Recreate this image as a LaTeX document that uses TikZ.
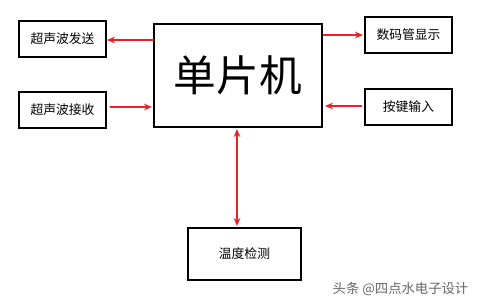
\documentclass[tikz,border=0pt]{standalone}
\usepackage{fontspec}
\setmainfont{Noto Sans CJK SC}
\usetikzlibrary{arrows.meta}
\definecolor{arrowred}{HTML}{E8212B}
\tikzset{
  blk/.style={draw=black, line width=1.5pt, minimum width=87*0.75pt, minimum height=36*0.75pt, inner sep=0pt, font=\fontsize{9.6pt}{11pt}\selectfont},
  conn/.style={draw=arrowred, line width=1.3pt, -{Stealth[length=6pt,width=5pt]}},
  conn2/.style={draw=arrowred, line width=1.3pt, {Stealth[length=6pt,width=5pt]}-{Stealth[length=6pt,width=5pt]}}
}
\begin{document}
\begin{tikzpicture}[x=0.75pt,y=-0.75pt]
\useasboundingbox (0,0) rectangle (480,300);
\node[blk, minimum width=168*0.75pt, minimum height=103*0.75pt, font=\fontsize{32pt}{36pt}\selectfont] (mcu) at (238,75.5) {单片机};
\node[blk] (tx) at (62.5,39) {超声波发送};
\node[blk] (rx) at (62.5,110) {超声波接收};
\node[blk] (seg) at (408.5,35) {数码管显示};
\node[blk] (key) at (408.5,107) {按键输入};
\node[blk, minimum width=113*0.75pt, minimum height=52*0.75pt] (temp) at (244.5,254) {温度检测};
\coordinate (a1s) at (154,40); \coordinate (a1e) at (107,40);
\draw[conn] (a1s) -- (a1e);
\coordinate (a2s) at (110,107); \coordinate (a2e) at (152,107);
\draw[conn] (a2s) -- (a2e);
\coordinate (a3s) at (323,35); \coordinate (a3e) at (363,35);
\draw[conn] (a3s) -- (a3e);
\coordinate (a4s) at (362,106); \coordinate (a4e) at (325,106);
\draw[conn] (a4s) -- (a4e);
\draw[conn2] (237,129) -- (237,226);
\node[text=black!60, font=\fontsize{10pt}{12pt}\selectfont, anchor=east] (wm) at (473,289) {头条 @四点水电子设计};
\end{tikzpicture}
\end{document}
